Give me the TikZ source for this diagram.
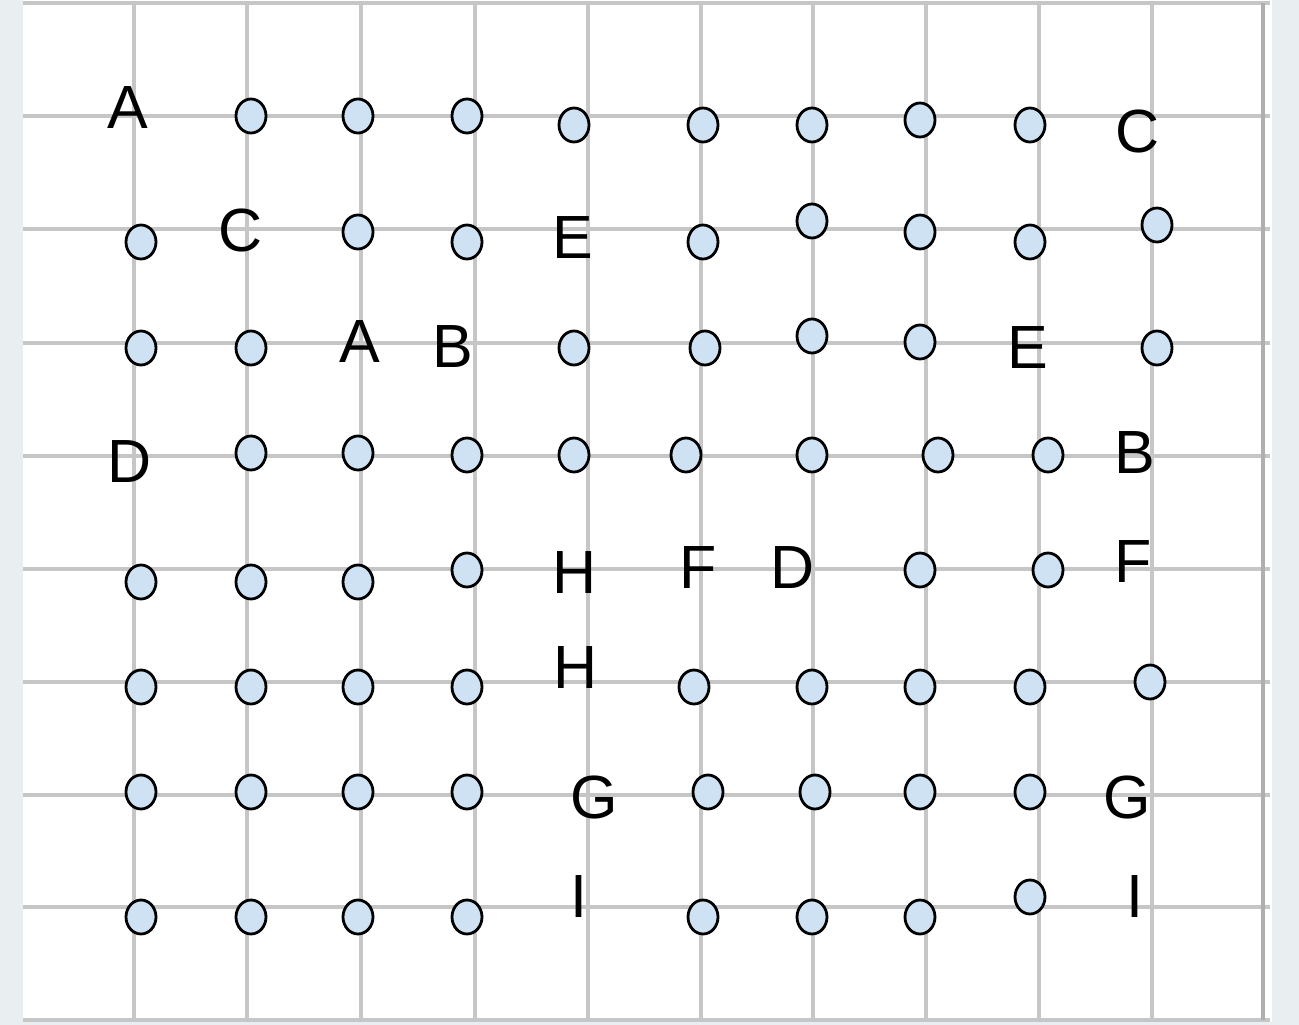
\documentclass[tikz,border=0pt]{standalone}
\usepackage{fontspec}
\setmainfont{Liberation Sans}
\usetikzlibrary{shapes.geometric}
\definecolor{bgout}{HTML}{E9EEF0}
\definecolor{gridc}{HTML}{C6C6C6}
\definecolor{gridd}{HTML}{AFAFAF}
\definecolor{dotfill}{HTML}{CFE2F3}
\tikzset{
  dot/.style={ellipse,draw=black,line width=2.8pt,fill=dotfill,minimum width=30pt,minimum height=34pt,inner sep=0pt},
  lbl/.style={inner sep=0pt,font=\fontsize{61}{61}\selectfont},
  gline/.style={draw=gridc,line width=4pt}
}
\begin{document}
\begin{tikzpicture}[x=1pt,y=-1pt]
\useasboundingbox (0,0) rectangle (1299,1025);
\fill[bgout] (0,0) rectangle (1299,1025);
\fill[white] (23,0) rectangle (1272,1022);
% grid
\foreach \gy in {3,116,229,343,456,569,682,795,907,1020}
  \draw[gline] (23,\gy) -- (1270,\gy);
\foreach \gx in {134,247,361,475,588,701,813,926,1039,1152}
  \draw[gline] (\gx,3) -- (\gx,1020);
\draw[gline,draw=gridd] (1263,3) -- (1263,1020);
% dots
\foreach \n/\x/\y in {
 a2/251/116, a3/358/116, a4/467/116, a5/574/125, a6/703/125, a7/812/125, a8/920/120, a9/1030/125,
 b1/141/242, b3/358/232, b4/467/242, b6/703/242, b7/812/221, b8/920/232, b9/1030/242, b10/1157/225,
 c1/141/348, c2/251/348, c5/574/348, c6/705/348, c7/812/336, c8/920/342, c10/1157/348,
 d2/251/453, d3/358/453, d4/467/455, d5/574/455, d6/686/455, d7/812/455, d8/938/455, d9/1048/455,
 e1/141/582, e2/251/582, e3/358/582, e4/467/570, e8/920/570, e9/1048/570,
 f1/141/687, f2/251/687, f3/358/687, f4/467/687, f6/694/687, f7/812/687, f8/920/687, f9/1030/687, f10/1150/682,
 g1/141/792, g2/251/792, g3/358/792, g4/467/792, g6/708/792, g7/815/792, g8/920/792, g9/1030/792,
 h1/141/917, h2/251/917, h3/358/917, h4/467/917, h6/703/917, h7/812/917, h8/920/917, h9/1030/897}
  \node[dot] (d\n) at (\x,\y) {};
% letters
\foreach \n/\x/\y/\t in {
 a1/128/108/A, a10/1138/132/C,
 b2/241/231/C, b5/573/238/E,
 c3/360/342/A, c4/453/347/B, c9/1028/348/E,
 d1/130/462/D, d10/1135/453/B,
 e5/575/573/H, e6/698/568/F, e7/793/568/D, e10/1133/562/F,
 f5/576/668/H,
 g5/594/797/G, g10/1127/797/G,
 h5/579/897/I, h10/1135/897/I}
  \node[lbl] (l\n) at (\x,\y) {\t};
\end{tikzpicture}
\end{document}
